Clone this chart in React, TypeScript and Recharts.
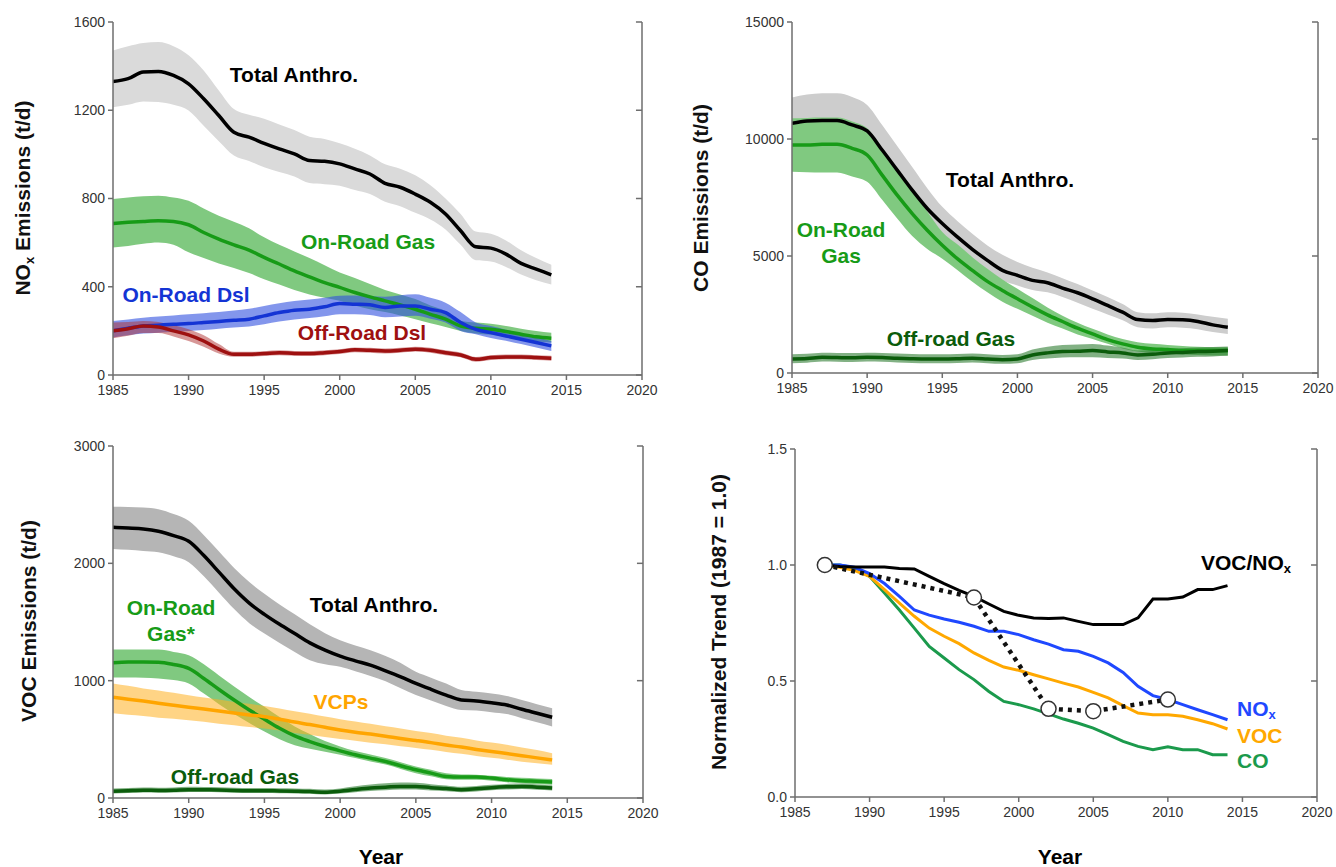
import React from "react";
import { ComposedChart, Line, Area, XAxis, YAxis, ReferenceLine } from "recharts";

// years shared by the three emission panels
const years = [
  1985, 1986, 1987, 1988, 1989, 1990, 1991, 1992, 1993, 1994,
  1995, 1996, 1997, 1998, 1999, 2000, 2001, 2002, 2003, 2004,
  2005, 2006, 2007, 2008, 2009, 2010, 2011, 2012, 2013, 2014,
];
const xTicks = [1985, 1990, 1995, 2000, 2005, 2010, 2015, 2020];

// NOx (t/d)
const noxTotal = [1330, 1343, 1373, 1376, 1358, 1320, 1252, 1176, 1100, 1078, 1050, 1025, 1002, 972, 969, 957, 934, 911, 869, 851, 820, 783, 730, 654, 581, 575, 548, 506, 480, 454];
const noxTotalHi = [1471, 1490, 1505, 1509, 1490, 1449, 1380, 1290, 1206, 1180, 1161, 1135, 1110, 1080, 1070, 1050, 1025, 995, 955, 935, 905, 860, 800, 730, 650, 640, 610, 565, 530, 500];
const noxTotalLo = [1214, 1225, 1240, 1237, 1225, 1199, 1130, 1060, 995, 970, 942, 920, 900, 870, 865, 858, 838, 820, 785, 765, 735, 705, 660, 590, 520, 515, 490, 455, 430, 410];
const noxGas = [687, 692, 696, 699, 696, 681, 646, 616, 590, 566, 533, 503, 472, 445, 419, 397, 374, 354, 336, 318, 298, 275, 253, 222, 212, 207, 197, 185, 173, 167];
const noxGasHi = [798, 805, 810, 813, 805, 790, 755, 722, 695, 665, 624, 590, 560, 530, 497, 465, 440, 412, 385, 365, 344, 315, 290, 245, 238, 232, 222, 210, 200, 192];
const noxGasLo = [578, 585, 595, 601, 590, 556, 530, 505, 485, 462, 434, 410, 385, 365, 350, 336, 315, 298, 285, 270, 253, 235, 218, 200, 188, 182, 172, 160, 152, 147];
const noxDsl = [200, 212, 222, 226, 230, 233, 238, 243, 248, 253, 268, 283, 294, 298, 309, 324, 321, 318, 306, 313, 313, 298, 283, 238, 207, 192, 177, 162, 147, 132];
const noxDslHi = [245, 252, 260, 265, 270, 275, 280, 285, 292, 300, 313, 325, 335, 342, 350, 359, 360, 358, 355, 362, 366, 350, 328, 285, 238, 222, 205, 188, 172, 154];
const noxDslLo = [170, 180, 188, 192, 196, 200, 204, 210, 215, 220, 230, 242, 252, 258, 266, 275, 275, 272, 262, 265, 268, 255, 238, 200, 185, 168, 155, 140, 125, 109];
const noxOff = [200, 210, 222, 218, 200, 182, 154, 117, 94, 94, 97, 101, 98, 97, 101, 106, 114, 112, 109, 112, 117, 112, 101, 91, 71, 79, 82, 82, 79, 76];
const noxOffHi = [238, 240, 245, 240, 225, 207, 180, 140, 105, 105, 108, 112, 109, 108, 112, 117, 125, 123, 120, 123, 128, 123, 112, 102, 82, 90, 93, 93, 90, 87];
const noxOffLo = [167, 178, 190, 190, 175, 154, 128, 98, 83, 83, 86, 90, 87, 86, 90, 95, 103, 101, 98, 101, 106, 101, 90, 80, 60, 68, 71, 71, 68, 65];

// CO (t/d)
const coTotal = [10671, 10771, 10786, 10786, 10600, 10343, 9529, 8671, 7814, 7029, 6386, 5814, 5286, 4814, 4386, 4171, 3957, 3857, 3629, 3429, 3171, 2886, 2600, 2286, 2243, 2286, 2271, 2200, 2057, 1957];
const coTotalHi = [11771, 11900, 11957, 11957, 11800, 11457, 10600, 9700, 8800, 7900, 7100, 6500, 5950, 5450, 5050, 4743, 4500, 4300, 4050, 3800, 3529, 3250, 2950, 2600, 2550, 2600, 2580, 2500, 2400, 2314];
const coTotalLo = [9886, 9950, 9980, 9980, 9800, 9500, 8700, 7900, 7100, 6350, 5743, 5200, 4700, 4300, 3950, 3743, 3550, 3450, 3250, 3000, 2743, 2500, 2250, 1957, 1900, 1950, 1930, 1870, 1750, 1671];
const coGas = [9743, 9743, 9771, 9771, 9600, 9314, 8457, 7600, 6814, 6100, 5457, 4886, 4386, 3914, 3529, 3171, 2814, 2486, 2200, 1914, 1671, 1429, 1243, 1100, 1029, 1000, 957, 957, 957, 957];
const coGasHi = [10886, 10900, 10914, 10914, 10750, 10457, 9600, 8700, 7850, 6900, 6029, 5500, 4950, 4450, 4000, 3600, 3200, 2800, 2450, 2150, 1886, 1650, 1450, 1314, 1250, 1200, 1150, 1120, 1100, 1100];
const coGasLo = [8600, 8580, 8571, 8571, 8400, 8171, 7400, 6600, 5850, 5300, 4886, 4400, 3900, 3450, 3050, 2743, 2450, 2150, 1900, 1650, 1457, 1250, 1050, 914, 850, 820, 790, 770, 750, 743];
const coOff = [600, 620, 671, 660, 650, 671, 660, 629, 610, 600, 600, 610, 629, 600, 571, 600, 771, 860, 914, 930, 957, 900, 857, 771, 800, 857, 880, 914, 930, 957];
const coOffHi = [800, 820, 870, 860, 850, 870, 860, 830, 810, 800, 800, 810, 830, 800, 770, 800, 1000, 1120, 1200, 1220, 1243, 1170, 1080, 960, 990, 1040, 1060, 1090, 1110, 1130];
const coOffLo = [420, 440, 490, 480, 470, 490, 480, 450, 430, 420, 420, 430, 450, 420, 390, 420, 560, 620, 660, 670, 671, 640, 620, 560, 590, 640, 660, 690, 710, 740];

// VOC (t/d)
const vocTotal = [2307, 2301, 2293, 2273, 2236, 2188, 2066, 1925, 1783, 1661, 1565, 1480, 1401, 1322, 1260, 1209, 1169, 1132, 1084, 1033, 977, 926, 877, 835, 827, 812, 793, 756, 722, 688];
const vocTotalHi = [2482, 2480, 2475, 2462, 2420, 2363, 2240, 2100, 1960, 1840, 1741, 1650, 1565, 1480, 1405, 1344, 1300, 1260, 1210, 1150, 1075, 1025, 975, 920, 905, 890, 870, 835, 800, 764];
const vocTotalLo = [2123, 2115, 2105, 2094, 2060, 2010, 1890, 1750, 1610, 1490, 1401, 1320, 1245, 1175, 1140, 1118, 1080, 1040, 995, 935, 877, 830, 785, 750, 745, 730, 715, 680, 645, 609];
const vocGas = [1152, 1160, 1160, 1158, 1138, 1104, 1019, 925, 835, 750, 671, 594, 529, 481, 439, 402, 368, 340, 311, 275, 241, 212, 184, 178, 178, 170, 156, 147, 142, 136];
const vocGasHi = [1265, 1265, 1265, 1265, 1245, 1217, 1140, 1045, 950, 860, 778, 690, 610, 545, 485, 439, 400, 370, 340, 305, 269, 240, 210, 200, 198, 190, 180, 172, 166, 161];
const vocGasLo = [1027, 1027, 1025, 1019, 1005, 976, 890, 800, 715, 640, 566, 500, 450, 420, 395, 368, 340, 312, 285, 248, 212, 185, 160, 155, 155, 148, 135, 125, 118, 113];
const vocVcp = [858, 842, 826, 808, 790, 773, 758, 742, 724, 708, 693, 671, 647, 626, 603, 580, 561, 545, 527, 507, 490, 472, 451, 434, 414, 396, 379, 361, 342, 325];
const vocVcpHi = [976, 956, 934, 916, 896, 875, 856, 839, 819, 803, 785, 763, 739, 718, 694, 672, 653, 633, 611, 593, 572, 553, 531, 513, 491, 472, 453, 431, 409, 382];
const vocVcpLo = [722, 709, 699, 685, 675, 662, 649, 633, 621, 605, 592, 575, 555, 539, 519, 502, 488, 471, 458, 441, 427, 411, 392, 377, 358, 342, 327, 309, 297, 283];
const vocOff = [57, 62, 66, 64, 66, 71, 70, 68, 64, 62, 62, 60, 58, 55, 48, 57, 72, 85, 92, 99, 99, 88, 80, 71, 78, 88, 95, 99, 92, 85];
const vocOffHi = [80, 85, 90, 88, 90, 95, 94, 92, 88, 86, 86, 84, 82, 79, 72, 82, 100, 115, 125, 132, 130, 118, 106, 95, 102, 112, 120, 124, 116, 108];
const vocOffLo = [38, 43, 47, 45, 47, 52, 51, 49, 45, 43, 43, 41, 39, 36, 30, 38, 50, 60, 66, 72, 72, 63, 58, 50, 56, 66, 72, 76, 70, 64];

// normalized trends (1987 = 1.0)
const trendYears = [
  1987, 1988, 1989, 1990, 1991, 1992, 1993, 1994, 1995, 1996,
  1997, 1998, 1999, 2000, 2001, 2002, 2003, 2004, 2005, 2006,
  2007, 2008, 2009, 2010, 2011, 2012, 2013, 2014,
];
const ratioTrend = [1.0, 0.994, 0.991, 0.991, 0.991, 0.985, 0.983, 0.951, 0.92, 0.891, 0.865, 0.832, 0.8, 0.783, 0.772, 0.769, 0.772, 0.757, 0.743, 0.743, 0.743, 0.772, 0.853, 0.853, 0.862, 0.894, 0.894, 0.911];
const noxTrend = [1.0, 1.0, 0.99, 0.963, 0.92, 0.865, 0.806, 0.784, 0.767, 0.753, 0.736, 0.714, 0.714, 0.7, 0.678, 0.659, 0.635, 0.628, 0.606, 0.578, 0.537, 0.477, 0.437, 0.42, 0.398, 0.376, 0.355, 0.333];
const vocTrend = [1.0, 0.99, 0.976, 0.951, 0.894, 0.836, 0.779, 0.728, 0.693, 0.661, 0.621, 0.589, 0.56, 0.546, 0.527, 0.509, 0.491, 0.474, 0.451, 0.427, 0.394, 0.362, 0.355, 0.355, 0.348, 0.333, 0.316, 0.293];
const coTrend = [1.0, 1.0, 0.987, 0.951, 0.879, 0.806, 0.728, 0.649, 0.599, 0.549, 0.506, 0.455, 0.412, 0.398, 0.38, 0.358, 0.336, 0.318, 0.297, 0.269, 0.24, 0.218, 0.204, 0.216, 0.204, 0.204, 0.182, 0.182];
const obsYears = [1987, 1997, 2002, 2005, 2010];
const obsRatio = [1.0, 0.86, 0.38, 0.37, 0.42];

const FONT = '"Liberation Sans", Arial, Helvetica, sans-serif';
const AXIS = "#6e6e6e";
const TICK = "#333";

type Box = { l: number; r: number; t: number; b: number };
type Series = { key: string; mid: number[]; lo: number[]; hi: number[]; line: string; fill: string; op: number; w?: number };

function buildRows(series: Series[]) {
  return years.map((year, i) => {
    const row: Record<string, number | number[]> = { year };
    series.forEach((s) => {
      row[s.key] = s.mid[i];
      row[s.key + "Band"] = [s.lo[i], s.hi[i]];
    });
    return row;
  });
}

function axes(yMax: number, yTicks: number[], fmt?: (v: number) => string) {
  return [
    <XAxis key="x" dataKey="year" type="number" domain={[1985, 2020]} ticks={xTicks} height={25}
      stroke={AXIS} strokeWidth={1.5} tickSize={5} tickMargin={5} allowDataOverflow
      tick={{ fill: TICK, fontSize: 14, fontFamily: FONT }} />,
    <YAxis key="y" type="number" domain={[0, yMax]} ticks={yTicks} width={60} allowDataOverflow
      stroke={AXIS} strokeWidth={1.5} tickSize={5} tickMargin={3} tickFormatter={fmt}
      tick={{ fill: TICK, fontSize: 14, fontFamily: FONT }} />,
  ];
}

// right-hand frame line with short inward ticks
function rightFrame(yTicks: number[]) {
  return [
    <ReferenceLine key="rf" x={2020} stroke={AXIS} strokeWidth={1.5} />,
    ...yTicks.map((v) => (
      <ReferenceLine key={"rt" + v} segment={[{ x: 2019.6, y: v }, { x: 2020, y: v }]} stroke={AXIS} strokeWidth={1.5} />
    )),
  ];
}

function EmissionPanel({ box, yMax, yTicks, series }: { box: Box; yMax: number; yTicks: number[]; series: Series[] }) {
  const data = buildRows(series);
  return (
    <div style={{ position: "absolute", left: box.l - 70, top: box.t - 10 }}>
      <ComposedChart width={box.r - box.l + 90} height={box.b - box.t + 40} data={data}
        margin={{ top: 10, right: 20, bottom: 5, left: 10 }}>
        {axes(yMax, yTicks)}
        {series.map((s) => (
          <Area key={s.key + "b"} dataKey={s.key + "Band"} type="monotone" stroke="none" fill={s.fill}
            fillOpacity={s.op} dot={false} activeDot={false} isAnimationActive={false} />
        ))}
        {series.map((s) => (
          <Line key={s.key} dataKey={s.key} type="monotone" stroke={s.line} strokeWidth={s.w ?? 3.5}
            dot={false} activeDot={false} isAnimationActive={false} />
        ))}
        {rightFrame(yTicks)}
      </ComposedChart>
    </div>
  );
}

function TrendPanel({ box }: { box: Box }) {
  const data = trendYears.map((year, i) => ({
    year, ratio: ratioTrend[i], nox: noxTrend[i], voc: vocTrend[i], co: coTrend[i],
  }));
  const obs = obsYears.map((year, i) => ({ year, obs: obsRatio[i] }));
  const yTicks = [0, 0.5, 1, 1.5];
  return (
    <div style={{ position: "absolute", left: box.l - 70, top: box.t - 10 }}>
      <ComposedChart width={box.r - box.l + 90} height={box.b - box.t + 40} data={data}
        margin={{ top: 10, right: 20, bottom: 5, left: 10 }}>
        {axes(1.5, yTicks, (v) => v.toFixed(1))}
        <Line dataKey="co" stroke="#1b9a4c" strokeWidth={3} dot={false} activeDot={false} isAnimationActive={false} />
        <Line dataKey="voc" stroke="#ffa800" strokeWidth={3} dot={false} activeDot={false} isAnimationActive={false} />
        <Line dataKey="nox" stroke="#1f48ff" strokeWidth={3} dot={false} activeDot={false} isAnimationActive={false} />
        <Line dataKey="ratio" stroke="#000" strokeWidth={3} dot={false} activeDot={false} isAnimationActive={false} />
        <Line data={obs} dataKey="obs" stroke="#111" strokeWidth={4.5} strokeDasharray="4 5"
          dot={{ r: 7.5, fill: "#fff", stroke: "#333", strokeWidth: 1.5, strokeDasharray: "none" }}
          activeDot={false} isAnimationActive={false} />
        {rightFrame(yTicks)}
      </ComposedChart>
    </div>
  );
}

const Txt = ({ x, y, color = "#000", left, children }: { x: number; y: number; color?: string; left?: boolean; children: React.ReactNode }) => (
  <div style={{
    position: "absolute", left: x, top: y, transform: left ? "translate(0,-50%)" : "translate(-50%,-50%)",
    color, fontWeight: 700, fontSize: 21, lineHeight: "26px", whiteSpace: "nowrap", textAlign: "center",
  }}>{children}</div>
);

const VTitle = ({ x, y, children }: { x: number; y: number; children: React.ReactNode }) => (
  <div style={{
    position: "absolute", left: x, top: y, transform: "translate(-50%,-50%) rotate(-90deg)",
    fontWeight: 700, fontSize: 21, lineHeight: 1, whiteSpace: "nowrap", color: "#111",
  }}>{children}</div>
);

const Sub = ({ children }: { children: React.ReactNode }) => (
  <sub style={{ fontSize: "0.62em", verticalAlign: "-0.25em" }}>{children}</sub>
);

const GAS_LINE = "#179b17";
const GAS_FILL = "#80c980";

export default function App() {
  const noxSeries: Series[] = [
    { key: "total", mid: noxTotal, lo: noxTotalLo, hi: noxTotalHi, line: "#000", fill: "#dadada", op: 1 },
    { key: "gas", mid: noxGas, lo: noxGasLo, hi: noxGasHi, line: GAS_LINE, fill: GAS_FILL, op: 1 },
    { key: "dsl", mid: noxDsl, lo: noxDslLo, hi: noxDslHi, line: "#1434d4", fill: "#3050e0", op: 0.6 },
    { key: "off", mid: noxOff, lo: noxOffLo, hi: noxOffHi, line: "#9e1010", fill: "#b03030", op: 0.5 },
  ];
  const coSeries: Series[] = [
    { key: "total", mid: coTotal, lo: coTotalLo, hi: coTotalHi, line: "#000", fill: "#cdcdcd", op: 1 },
    { key: "gas", mid: coGas, lo: coGasLo, hi: coGasHi, line: GAS_LINE, fill: GAS_FILL, op: 1 },
    { key: "off", mid: coOff, lo: coOffLo, hi: coOffHi, line: "#0b5c0b", fill: "#2e7d32", op: 0.6 },
  ];
  const vocSeries: Series[] = [
    { key: "total", mid: vocTotal, lo: vocTotalLo, hi: vocTotalHi, line: "#000", fill: "#b5b5b5", op: 1 },
    { key: "gas", mid: vocGas, lo: vocGasLo, hi: vocGasHi, line: GAS_LINE, fill: GAS_FILL, op: 1 },
    { key: "vcp", mid: vocVcp, lo: vocVcpLo, hi: vocVcpHi, line: "#ffa500", fill: "#ffb020", op: 0.55 },
    { key: "off", mid: vocOff, lo: vocOffLo, hi: vocOffHi, line: "#0b5c0b", fill: "#2e7d32", op: 0.6 },
  ];

  return (
    <div style={{ position: "absolute", left: 0, top: 0, width: 1336, height: 867, background: "#fff", fontFamily: FONT }}>
      <EmissionPanel box={{ l: 113, r: 642, t: 22, b: 375 }} yMax={1600} yTicks={[0, 400, 800, 1200, 1600]} series={noxSeries} />
      <EmissionPanel box={{ l: 792, r: 1318, t: 22, b: 373 }} yMax={15000} yTicks={[0, 5000, 10000, 15000]} series={coSeries} />
      <EmissionPanel box={{ l: 113, r: 643, t: 446, b: 798 }} yMax={3000} yTicks={[0, 1000, 2000, 3000]} series={vocSeries} />
      <TrendPanel box={{ l: 795, r: 1317, t: 449, b: 797 }} />

      <VTitle x={24} y={198}>NO<Sub>x</Sub> Emissions (t/d)</VTitle>
      <VTitle x={700} y={198}>CO Emissions (t/d)</VTitle>
      <VTitle x={28} y={621}>VOC Emissions (t/d)</VTitle>
      <VTitle x={718} y={622}>Normalized Trend (1987 = 1.0)</VTitle>

      <Txt x={294} y={75}>Total Anthro.</Txt>
      <Txt x={368} y={242} color={GAS_LINE}>On-Road Gas</Txt>
      <Txt x={186} y={295} color="#1434d4">On-Road Dsl</Txt>
      <Txt x={362} y={333} color="#9e1010">Off-Road Dsl</Txt>

      <Txt x={1010} y={180}>Total Anthro.</Txt>
      <Txt x={841} y={243} color={GAS_LINE}>On-Road<br />Gas</Txt>
      <Txt x={951} y={339} color="#0b5c0b">Off-road Gas</Txt>

      <Txt x={374} y={605}>Total Anthro.</Txt>
      <Txt x={171} y={621} color={GAS_LINE}>On-Road<br />Gas*</Txt>
      <Txt x={341} y={702} color="#ffa500">VCPs</Txt>
      <Txt x={235} y={777} color="#0b5c0b">Off-road Gas</Txt>
      <Txt x={381} y={857}>Year</Txt>

      <Txt x={1201} y={566} left>VOC/NO<Sub>x</Sub></Txt>
      <Txt x={1237} y={712} color="#1f48ff" left>NO<Sub>x</Sub></Txt>
      <Txt x={1237} y={736} color="#ffa800" left>VOC</Txt>
      <Txt x={1237} y={761} color="#1b9a4c" left>CO</Txt>
      <Txt x={1060} y={857}>Year</Txt>
    </div>
  );
}
